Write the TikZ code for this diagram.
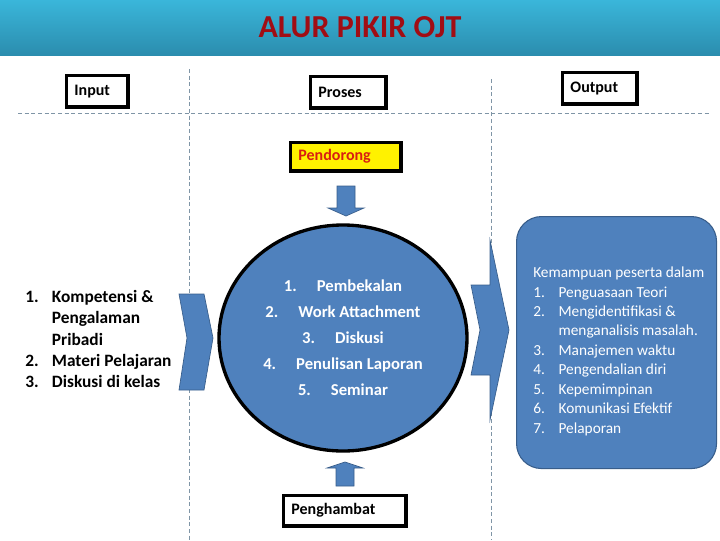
\documentclass[tikz,border=0pt]{standalone}
\usepackage{fontspec}
\setmainfont{Carlito}
\usetikzlibrary{shapes.geometric}
\definecolor{ojtblue}{HTML}{4F81BD}
\definecolor{ojtedge}{HTML}{385D8A}
\definecolor{ojtdash}{HTML}{7F95A6}
\definecolor{ojttop}{HTML}{3AB6DA}
\definecolor{ojtbot}{HTML}{2B8DAE}
\definecolor{ojtred}{HTML}{A10D14}
\definecolor{ojtpush}{HTML}{D81E12}

\begin{document}
\begin{tikzpicture}[x=0.75pt, y=-0.75pt,
    labelbox/.style={draw, line width=2.6pt, align=left, anchor=north west, inner xsep=6pt, inner ysep=0pt, font=\fontsize{12}{14}\selectfont\bfseries},
    blockarrow/.style={fill=ojtblue, draw=ojtedge, line width=0.5pt},
    guide/.style={ojtdash, dash pattern=on 3pt off 2pt, line width=0.6pt}]
    \useasboundingbox (0,0) rectangle (720,540);
    % title bar
    \shade[top color=ojttop, bottom color=ojtbot] (0,0) rectangle (720,55);
    \node[font=\fontsize{24}{28}\selectfont\bfseries, text=ojtred] (title) at (360,27) {ALUR PIKIR OJT};
    % column guides
    \draw[guide] (18,113) -- (710,113);
    \draw[guide] (189,69) -- (189,540);
    \draw[guide] (491,79) -- (491,540);
    % headers
    \node[labelbox, text width=34.1pt, minimum height=23.6pt] (inputhd) at (64.7,73.7) {Input};
    \node[labelbox, text width=44.6pt, minimum height=23.6pt] (proseshd) at (308.7,74.7) {Proses};
    \node[labelbox, text width=43.9pt, minimum height=23.6pt] (outputhd) at (560.7,70.7) {Output};
    \node[labelbox, fill=yellow, text=ojtpush, text width=70.9pt, minimum height=21.4pt] (pendorong) at (288.7,140.7) {Pendorong};
    \node[labelbox, text width=79.9pt, minimum height=22.9pt] (penghambat) at (281.7,493.7) {Penghambat};
    % input list
    \node[anchor=west, inner sep=0pt, font=\fontsize{13}{16}\selectfont\bfseries] (inlist) at (25,341) {%
      \begin{tabular}{@{}p{20pt}@{}l@{}}
        1. & Kompetensi \& \\
           & Pengalaman \\
           & Pribadi \\
        2. & Materi Pelajaran \\
        3. & Diskusi di kelas
      \end{tabular}};
    % process circle
    \node[ellipse, draw=black, line width=2.5pt, fill=ojtblue, minimum width=186pt, minimum height=169.5pt, inner sep=0pt,
          text=white, align=center, font=\fontsize{12.5}{19.5}\selectfont\bfseries] (procirc) at (343,338) {%
      1.\hspace{1.2em}Pembekalan\\
      2.\hspace{1.2em}Work Attachment\\
      3.\hspace{1.2em}Diskusi\\
      4.\hspace{1.2em}Penulisan Laporan\\
      5.\hspace{1.2em}Seminar};
    % block arrows
    \draw[blockarrow] (179,294) -- (204,294) -- (213,338) -- (204,390) -- (179,390) -- (187,338) -- cycle;
    \draw[blockarrow] (471,285) -- (490,285) -- (490,240) -- (509,330) -- (490,420) -- (490,375) -- (471,375) -- (480,330) -- cycle;
    \draw[blockarrow] (337,186) -- (355,186) -- (355,208) -- (364,208) -- (346,216) -- (328,208) -- (337,208) -- cycle;
    \draw[blockarrow] (336,486) -- (354,486) -- (354,468) -- (363,468) -- (345,462) -- (327,468) -- (336,468) -- cycle;
    % output box
    \node[draw=ojtedge, fill=ojtblue, line width=0.8pt, rounded corners=18.75pt, minimum width=150pt, minimum height=189pt, anchor=north west] (outbox) at (516,216) {};
    \node[anchor=west, inner sep=0pt, text=white, font=\fontsize{11.5}{14.6}\selectfont] (outtext) at (533,351.5) {%
      \begin{tabular}{@{}p{19pt}@{}l@{}}
        \multicolumn{2}{@{}l@{}}{Kemampuan peserta dalam} \\
        1. & Penguasaan Teori \\
        2. & Mengidentifikasi \& \\
           & menganalisis masalah. \\
        3. & Manajemen waktu \\
        4. & Pengendalian diri \\
        5. & Kepemimpinan \\
        6. & Komunikasi Efektif \\
        7. & Pelaporan
      \end{tabular}};
\end{tikzpicture}
\end{document}
